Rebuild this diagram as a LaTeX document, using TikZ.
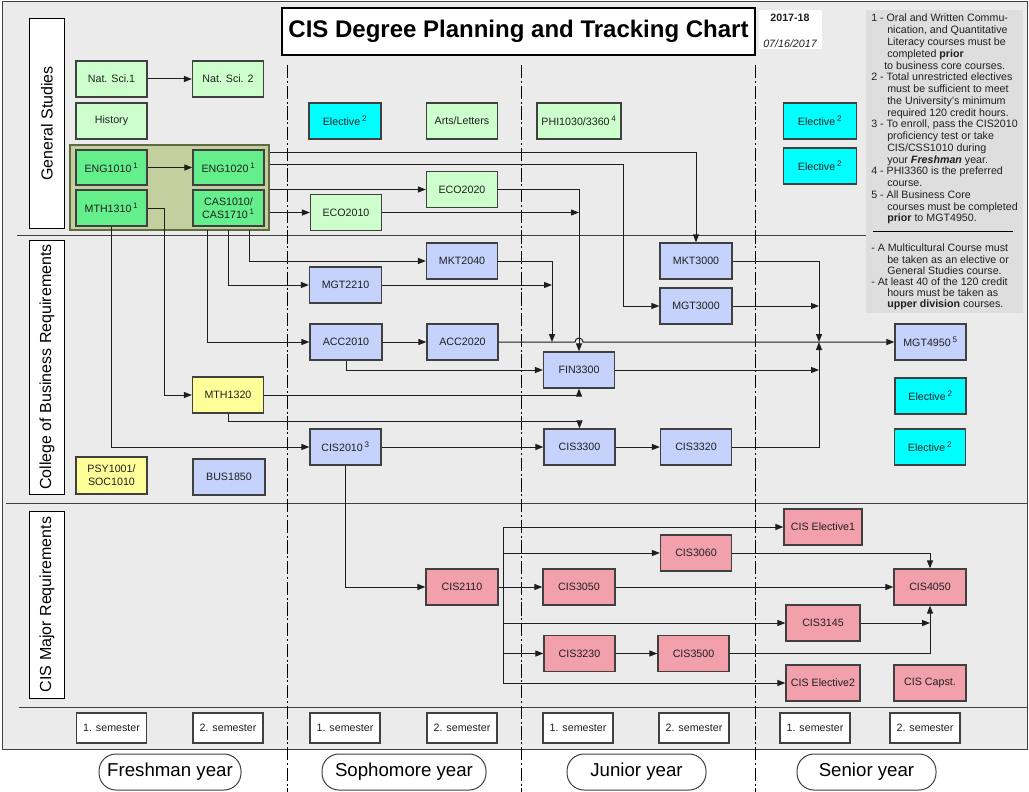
\documentclass[tikz,border=0pt]{standalone}
\usepackage{fontspec}
\setmainfont{Liberation Sans}
\usetikzlibrary{arrows.meta}
\newdimen\px \px=0.75pt
\definecolor{bg}{RGB}{235,235,235}
\definecolor{notebg}{RGB}{222,222,222}
\definecolor{lgreen}{RGB}{204,255,204}
\definecolor{mgreen}{RGB}{100,238,140}
\definecolor{grpfill}{RGB}{196,207,158}
\definecolor{grpdraw}{RGB}{94,107,64}
\definecolor{cyanb}{RGB}{0,255,255}
\definecolor{blueb}{RGB}{196,210,252}
\definecolor{yellowb}{RGB}{255,255,153}
\definecolor{pinkb}{RGB}{242,160,172}
\definecolor{edgecol}{RGB}{64,64,64}
\definecolor{lncol}{RGB}{30,30,30}
\definecolor{txt}{RGB}{32,32,32}
\begin{document}
\begin{tikzpicture}[x=0.75pt,y=-0.75pt,
  box/.style={draw=edgecol, line width=0.9pt, inner sep=0pt, minimum width=71\px, minimum height=36\px, font=\fontsize{8}{9.5}\selectfont, text=txt, align=center},
  lg/.style={box, fill=lgreen},
  mg/.style={box, fill=mgreen},
  cy/.style={box, fill=cyanb},
  bl/.style={box, fill=blueb},
  yl/.style={box, fill=yellowb},
  pk/.style={box, fill=pinkb},
  sem/.style={box, fill=white, minimum height=30\px, minimum width=70\px},
  yr/.style={draw=edgecol, line width=0.75pt, fill=white, rounded corners=17\px, minimum height=36\px, font=\fontsize{14}{16}\selectfont, inner sep=0pt},
  lab/.style={draw=black, line width=0.75pt, fill=white, minimum height=35\px, inner sep=0pt, font=\fontsize{12}{14}\selectfont, rotate=90},
  conn/.style={draw=lncol, line width=0.75pt},
  arr/.style={conn, -{Triangle[length=6pt,width=4.5pt]}},
  vdash/.style={draw=black, line width=0.7pt, dash pattern=on 10pt off 2pt on 1.5pt off 2pt},
  sepline/.style={draw=edgecol, line width=0.75pt},
  notes/.style={inner sep=0pt, align=left, text=txt, anchor=north west}
]
\useasboundingbox (0,0) rectangle (1029,792);
% frame and background
\draw[fill=bg, draw=edgecol, line width=0.75pt] (2,2) rectangle (1027,749);
\fill[notebg] (866,10) rectangle (1023,313);
\fill[white] (759,10) rectangle (822,49);
% separators
\draw[sepline] (17,235) -- (866,235);
\draw[sepline] (6,503) -- (1027,503);
\draw[sepline] (19,707) -- (1027,707);
\draw[draw=black, line width=0.75pt] (873,231) -- (1013,231);
% dashed year dividers
\draw[vdash] (287,65) -- (287,792);
\draw[vdash] (521,65) -- (521,792);
\draw[vdash] (755,65) -- (755,792);
% title and date
\node[draw=black, fill=white, line width=0.9pt, minimum width=473\px, minimum height=47\px, inner sep=0pt, font=\fontsize{18}{21}\bfseries\selectfont] (title) at (518.5,31.5) {CIS Degree Planning and Tracking Chart};
\node[inner sep=0pt, font=\fontsize{8}{9}\bfseries\selectfont, text=txt] (year) at (790,18) {2017-18};
\node[inner sep=0pt, font=\fontsize{8}{9}\itshape\selectfont, text=txt] (date) at (790,44) {07/16/2017};
% notes
\node[notes, font=\fontsize{8}{8.82}\selectfont] (notesA) at (871,14) {1 - Oral and Written Commu-\\
\hspace*{12pt}nication, and Quantitative\\
\hspace*{12pt}Literacy courses must be\\
\hspace*{12pt}completed \textbf{prior}\\
\hspace*{9.75pt}to business core courses.\\
2 - Total unrestricted electives\\
\hspace*{12pt}must be sufficient to meet\\
\hspace*{12pt}the University's minimum\\
\hspace*{12pt}required 120 credit hours.\\
3 - To enroll, pass the CIS2010\\
\hspace*{12pt}proficiency test or take\\
\hspace*{12pt}CIS/CSS1010 during\\
\hspace*{12pt}your \textbf{\itshape Freshman} year.\\
4 - PHI3360 is the preferred\\
\hspace*{12pt}course.\\
5 - All Business Core\\
\hspace*{12pt}courses must be completed\\
\hspace*{12pt}\textbf{prior} to MGT4950.};
\node[notes, font=\fontsize{8}{8.4}\selectfont] (notesB) at (871,244) {- A Multicultural Course must\\
\hspace*{12pt}be taken as an elective or\\
\hspace*{12pt}General Studies course.\\
- At least 40 of the 120 credit\\
\hspace*{12pt}hours must be taken as\\
\hspace*{12pt}\textbf{upper division} courses.};
% section labels
\node[lab, minimum width=209\px] (labGS) at (47,123.5) {General Studies};
\node[lab, minimum width=254\px] (labCB) at (47,367) {College of Business Requirements};
\node[lab, minimum width=187\px] (labCIS) at (47,604.5) {CIS Major Requirements};
% group box
\node[draw=grpdraw, fill=grpfill, line width=1.2pt, minimum width=199\px, minimum height=85\px, inner sep=0pt] (grp) at (169.5,187.5) {};
% general studies
\node[lg] (natsci1) at (111.5,79) {Nat. Sci.1};
\node[lg] (natsci2) at (228,79) {Nat. Sci. 2};
\node[lg] (history) at (111.5,121) {History};
\node[mg, minimum height=35\px] (eng1010) at (111.5,167.5) {ENG1010\,\textsuperscript{1}};
\node[mg, minimum height=35\px] (eng1020) at (228.5,167.5) {ENG1020\,\textsuperscript{1}};
\node[mg] (mth1310) at (111.5,208) {MTH1310\,\textsuperscript{1}};
\node[mg] (cas1010) at (228.5,208) {CAS1010/\\CAS1710\,\textsuperscript{1}};
\node[cy, minimum width=72\px] (elec1) at (345,121) {Elective\,\textsuperscript{2}};
\node[lg] (arts) at (462,121) {Arts/Letters};
\node[lg, minimum width=84\px] (phi) at (579,121) {PHI1030/3360\,\textsuperscript{4}};
\node[lg] (eco2020) at (462,189.5) {ECO2020};
\node[lg] (eco2010) at (346,212.5) {ECO2010};
\node[cy, minimum width=73\px] (elec2) at (820,121) {Elective\,\textsuperscript{2}};
\node[cy, minimum width=73\px] (elec3) at (820,166) {Elective\,\textsuperscript{2}};
% business
\node[bl] (mkt2040) at (462,261) {MKT2040};
\node[bl, minimum width=72\px] (mgt2210) at (345.5,285) {MGT2210};
\node[bl, minimum width=72\px] (acc2010) at (346,342) {ACC2010};
\node[bl] (acc2020) at (462.5,342) {ACC2020};
\node[bl] (fin3300) at (579,370) {FIN3300};
\node[yl] (mth1320) at (228,395) {MTH1320};
\node[bl, minimum width=72\px] (mkt3000) at (696,261) {MKT3000};
\node[bl, minimum width=72\px] (mgt3000) at (696,306) {MGT3000};
\node[bl] (mgt4950) at (930.5,342) {MGT4950\,\textsuperscript{5}};
\node[cy] (elec4) at (930.5,396) {Elective\,\textsuperscript{2}};
\node[bl] (cis2010) at (345.5,447) {CIS2010\,\textsuperscript{3}};
\node[bl] (cis3300) at (579.5,447) {CIS3300};
\node[bl] (cis3320) at (696,447) {CIS3320};
\node[cy] (elec5) at (930,447) {Elective\,\textsuperscript{2}};
\node[yl, minimum height=37\px] (psy) at (111.5,475.5) {PSY1001/\\SOC1010};
\node[bl, minimum width=72\px] (bus1850) at (229,477) {BUS1850};
% CIS major
\node[pk, minimum width=72\px] (cis2110) at (462,587) {CIS2110};
\node[pk, minimum width=78\px] (ciselec1) at (823,527) {CIS Elective1};
\node[pk] (cis3060) at (696,553) {CIS3060};
\node[pk, minimum width=72\px] (cis3050) at (579,587) {CIS3050};
\node[pk, minimum width=72\px] (cis4050) at (930,587) {CIS4050};
\node[pk, minimum width=74\px] (cis3145) at (823,623) {CIS3145};
\node[pk] (cis3230) at (579.5,653.5) {CIS3230};
\node[pk] (cis3500) at (693.5,653.5) {CIS3500};
\node[pk, minimum width=74\px] (ciselec2) at (823,683) {CIS Elective2};
\node[pk, minimum width=72\px] (capst) at (930,683) {CIS Capst.};
% semesters
\node[sem] (s1) at (111.5,728) {1. semester};
\node[sem] (s2) at (228,728) {2. semester};
\node[sem] (s3) at (345,728) {1. semester};
\node[sem] (s4) at (462,728) {2. semester};
\node[sem] (s5) at (578,728) {1. semester};
\node[sem] (s6) at (694,728) {2. semester};
\node[sem] (s7) at (815,728) {1. semester};
\node[sem] (s8) at (925,728) {2. semester};
% years
\node[yr, minimum width=142\px] (yF) at (170,772) {Freshman year};
\node[yr, minimum width=164\px] (yS) at (404,772) {Sophomore year};
\node[yr, minimum width=139\px] (yJ) at (636.5,772) {Junior year};
\node[yr, minimum width=139\px] (ySe) at (866.5,772) {Senior year};
% helper coordinates
\coordinate (h153) at (0,153);
\coordinate (h164) at (0,164);
\coordinate (k623) at (623,0);
\coordinate (g249) at (249,230);
\coordinate (g228) at (228,230);
\coordinate (g207) at (207,230);
\coordinate (j552) at (552,342);
\coordinate (hopL) at (575,342);
\coordinate (k164) at (164,0);
\coordinate (h421) at (0,421);
\coordinate (j819) at (819,342);
\coordinate (b503) at (503,0);
% connectors
\draw[arr] (natsci1) -- (natsci2);
\draw[arr] (eng1010) -- (eng1020);
\draw[arr] (grp.east |- h153) -| (mkt3000.north);
\draw[arr] (grp.east |- h164) -| (k623 |- mgt3000.west) -- (mgt3000.west);
\draw[arr] (grp.east |- eco2020.west) -- (eco2020.west);
\draw[arr] (grp.east |- eco2010.west) -- (eco2010.west);
\draw[arr] (eco2020.east) -| (fin3300.north);
\draw[arr] (eco2010.east) -- (fin3300.north |- eco2010.east);
\draw[arr] (g249) |- (mkt2040.west);
\draw[arr] (g228) |- (mgt2210.west);
\draw[arr] (g207) |- (acc2010.west);
\draw[arr] (acc2010) -- (acc2020);
\draw[arr] (mkt2040.east) -| (j552);
\draw[arr] (mgt2210.east) -- (j552 |- mgt2210.east);
\draw[arr] (acc2020.east) -- (hopL) arc[start angle=180, end angle=0, radius=3pt] -- (mgt4950.west);
\draw[arr] (acc2010.south) |- (fin3300.west);
\draw[arr] (mth1320.east) -| (fin3300.south);
\draw[arr] (mth1310.east) -| (k164 |- mth1320.west) -- (mth1320.west);
\draw[arr] (mth1310.south) |- (cis2010.west);
\draw[arr] (mth1320.south) |- (h421 -| cis3300.north) -- (cis3300.north);
\draw[arr] (cis2010) -- (cis3300);
\draw[arr] (cis3300) -- (cis3320);
\draw[arr] (cis3320.east) -| (j819);
\draw[arr] (mkt3000.east) -| (j819);
\draw[arr] (mgt3000.east) -- (j819 |- mgt3000.east);
\draw[arr] (fin3300.east) -- (j819 |- fin3300.east);
\draw[arr] (cis2010.south) |- (cis2110.west);
\draw[arr] (cis2110) -- (cis3050);
\draw[conn] (b503 |- ciselec1.west) -- (b503 |- ciselec2.west);
\draw[arr] (b503 |- ciselec1.west) -- (ciselec1.west);
\draw[arr] (b503 |- cis3060.west) -- (cis3060.west);
\draw[arr] (b503 |- cis3145.west) -- (cis3145.west);
\draw[arr] (b503 |- cis3230.west) -- (cis3230.west);
\draw[arr] (b503 |- ciselec2.west) -- (ciselec2.west);
\draw[arr] (cis3060.east) -| (cis4050.north);
\draw[arr] (cis3050) -- (cis4050);
\draw[arr] (cis3145.east) -- (cis4050.south |- cis3145.east);
\draw[arr] (cis3230) -- (cis3500);
\draw[arr] (cis3500.east) -| (cis4050.south);
\end{tikzpicture}
\end{document}
